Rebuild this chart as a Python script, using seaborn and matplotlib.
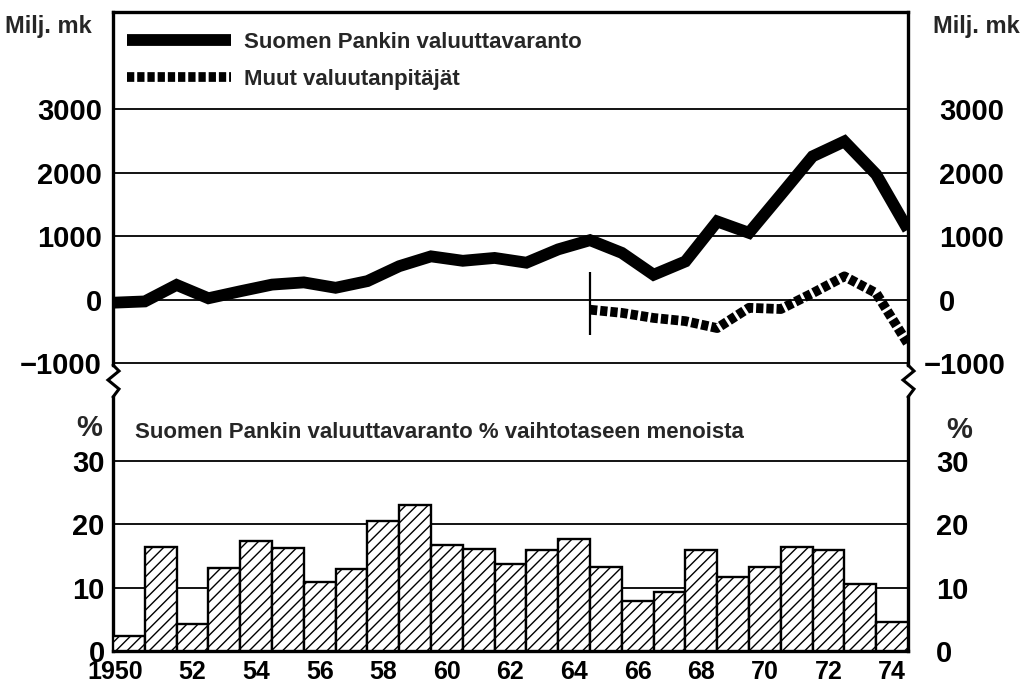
import numpy as np
import pandas as pd
import seaborn as sns
import matplotlib
matplotlib.use("Agg")
import matplotlib.pyplot as plt
from matplotlib.lines import Line2D
from matplotlib.transforms import ScaledTranslation

# ---------------- data ----------------
years = list(range(1950, 1975))
reserve_pct = [2.4, 16.4, 4.2, 13.1, 17.3, 16.3, 10.9, 13.0, 20.6, 23.1, 16.7, 16.1, 13.7,
               15.9, 17.7, 13.3, 7.9, 9.3, 16.0, 11.7, 13.2, 16.4, 15.9, 10.5, 4.5]

line_years = list(range(1949, 1975))          # year-end values
bank_reserve = [-50, -30, 230, 20, 130, 235, 270, 185, 290, 525, 680, 610, 655, 580,
                790, 935, 735, 390, 600, 1230, 1050, 1650, 2255, 2490, 1970, 1100]

other_years = list(range(1964, 1975))
other_holders = [-160, -210, -290, -340, -450, -130, -150, 100, 365, 100, -700]
marker_range = [-560, 430]                    # vertical marker at start of series

top_ticks = [-1000, 0, 1000, 2000, 3000]
top_labels = ["\u22121000", "0", "1000", "2000", "3000"]
bot_ticks = [0, 10, 20, 30]
bot_labels = ["0", "10", "20", "30"]
x_ticks = list(range(1950, 1975, 2))
x_labels = ["1950", "52", "54", "56", "58", "60", "62", "64", "66", "68", "70", "72", "74"]

legend_labels = ["Suomen Pankin valuuttavaranto", "Muut valuutanpitäjät"]
bottom_title = "Suomen Pankin valuuttavaranto % vaihtotaseen menoista"
unit_top = "Milj. mk"
unit_bot = "%"

# ---------------- style ----------------
sns.set_theme(style="white")
plt.rcParams["font.family"] = ["Liberation Sans", "DejaVu Sans"]
plt.rcParams["font.weight"] = "bold"
plt.rcParams["hatch.linewidth"] = 1.0
plt.rcParams["axes.unicode_minus"] = True

W, H = 1032, 687
fig = plt.figure(figsize=(W / 100, H / 100), dpi=100)
fig.patch.set_facecolor("white")

def fx(x):
    return x / W

def fy(y):
    return 1 - y / H

L, R = 113, 908
ax_top = fig.add_axes([fx(L), fy(365), fx(R) - fx(L), fy(12) - fy(365)])
ax_bot = fig.add_axes([fx(L), fy(651), fx(R) - fx(L), fy(397) - fy(651)])

# ---------------- bottom: bars ----------------
df_bar = pd.DataFrame({"year": years, "pct": reserve_pct})
sns.barplot(data=df_bar, x="year", y="pct", native_scale=True, width=1.0,
            color="white", edgecolor="black", linewidth=1.7, ax=ax_bot, zorder=3)
for p in ax_bot.patches:
    p.set_hatch("///")
    p.set_facecolor("white")
    p.set_edgecolor("black")

# ---------------- top: lines ----------------
df_line = pd.DataFrame({"x": np.array(line_years) + 0.5, "v": bank_reserve})
df_other = pd.DataFrame({"x": np.array(other_years) + 0.5, "v": other_holders})
sns.lineplot(data=df_line, x="x", y="v", ax=ax_top, color="black", lw=8.5,
             solid_joinstyle="miter", solid_capstyle="butt", zorder=4)
sns.lineplot(data=df_other, x="x", y="v", ax=ax_top, color="black", lw=7,
             linestyle=(0, (0.75, 0.3)), dash_capstyle="butt", zorder=4)
ax_top.vlines(df_other["x"].iloc[0], marker_range[0], marker_range[1],
              color="black", lw=1.6, zorder=5)

# ---------------- axes cosmetics ----------------
for ax in (ax_top, ax_bot):
    ax.set_xlim(1949.5, 1974.5)
    ax.set_xlabel("")
    ax.set_ylabel("")
    ax.set_facecolor("white")
    ax.grid(False)
    ax.yaxis.grid(True, color="black", lw=1.3)
    ax.set_axisbelow(True)
    for s in ax.spines.values():
        s.set_linewidth(2.4)
        s.set_color("black")

ax_top.spines["bottom"].set_visible(False)
ax_bot.spines["top"].set_visible(False)

ax_top.set_ylim(-1031, 4528)
ax_bot.set_ylim(0, 40.1)

ax_top.set_yticks(top_ticks)
ax_top.set_yticklabels(top_labels)
ax_top.set_xticks([])
ax_bot.set_yticks(bot_ticks)
ax_bot.set_yticklabels(bot_labels)
ax_bot.set_xticks(x_ticks)
ax_bot.set_xticklabels(x_labels)

for ax, lpad in ((ax_top, 8), (ax_bot, 6)):
    ax.tick_params(axis="y", which="both", length=0, labelsize=21, left=False, right=False,
                   labelleft=True, labelright=True, pad=lpad, labelcolor="black")
    for lbl in ax.get_yticklabels():
        lbl.set_fontweight("bold")

# right side labels: digits start about 29 px right of the spine
for ax in (ax_top, ax_bot):
    for t in ax.yaxis.get_major_ticks():
        shift = 20 / 100
        if t.label2.get_text().startswith("\u2212"):
            shift -= 15 / 100
        t.label2.set_transform(t.label2.get_transform() + ScaledTranslation(shift, 0, fig.dpi_scale_trans))
        t.label2.set_fontweight("bold")

ax_bot.tick_params(axis="x", length=0, labelsize=18, pad=6.5, labelcolor="black")
for lbl in ax_bot.get_xticklabels():
    lbl.set_fontweight("bold")
first = ax_bot.get_xticklabels()[0]
first.set_transform(first.get_transform() + ScaledTranslation(-14 / 100, 0, fig.dpi_scale_trans))

# ---------------- legend ----------------
handles = [Line2D([], [], color="black", lw=8.5, solid_capstyle="butt"),
           Line2D([], [], color="black", lw=7, linestyle=(0, (0.75, 0.3)), dash_capstyle="butt")]
ax_top.legend(handles, legend_labels, loc="upper left",
              bbox_to_anchor=((127 - L) / (R - L), 1 - (32 - 12) / 353),
              frameon=False, prop={"weight": "bold", "size": 16},
              handlelength=4.7, handletextpad=0.55, labelspacing=0.72,
              borderpad=0, borderaxespad=0)

# ---------------- texts ----------------
fig.text(fx(5), fy(26), unit_top, fontsize=17, fontweight="bold", ha="left", va="center")
fig.text(fx(933), fy(26), unit_top, fontsize=17, fontweight="bold", ha="left", va="center")
fig.text(fx(102), fy(428), unit_bot, fontsize=21, fontweight="bold", ha="right", va="center")
fig.text(fx(946), fy(430), unit_bot, fontsize=21, fontweight="bold", ha="left", va="center")
fig.text(fx(135), fy(433), bottom_title, fontsize=16, fontweight="bold", ha="left", va="center")

# ---------------- axis break zigzags ----------------
for xs in (L, R):
    px = [xs, xs + 6, xs - 5, xs + 6, xs]
    py = [365, 371, 380, 389, 397]
    fig.add_artist(Line2D([fx(v) for v in px], [fy(v) for v in py],
                          transform=fig.transFigure, color="black", lw=2.2,
                          solid_joinstyle="miter"))

fig.savefig("out.png", dpi=100, facecolor="white")
